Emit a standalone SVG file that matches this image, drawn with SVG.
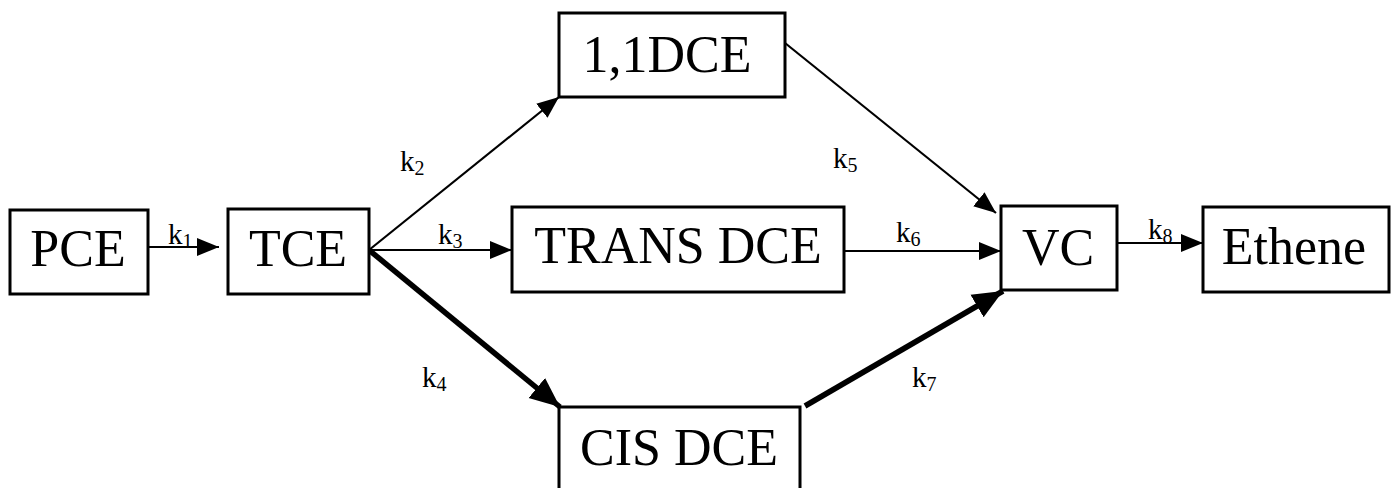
<svg xmlns="http://www.w3.org/2000/svg" width="1396" height="488" viewBox="0 0 1396 488">
<style>
.box{fill:#fff;stroke:#000;stroke-width:3}
.lbl{font-family:"Liberation Serif","Times New Roman",serif;font-size:52px;text-anchor:middle;fill:#000}
.k{font-family:"Liberation Serif","Times New Roman",serif;font-size:29px;fill:#000}
.sub{font-size:20px}
.thin{stroke:#000;stroke-width:2.2;fill:none}
.thick{stroke:#000;stroke-width:5.5;fill:none}
</style>
<defs>
<marker id="ah" markerUnits="userSpaceOnUse" markerWidth="24" markerHeight="20" refX="22" refY="10" orient="auto"><path d="M0,1 L22,10 L0,19 Z" fill="#000"/></marker>
<marker id="ahT" markerUnits="userSpaceOnUse" markerWidth="32" markerHeight="28" refX="30" refY="14" orient="auto"><path d="M0,1 L30,14 L0,27 Z" fill="#000"/></marker>
</defs>
<g id="connectors">
<line class="thin" x1="144" y1="247" x2="219" y2="247" marker-end="url(#ah)"/>
<line class="thin" x1="369" y1="250" x2="559" y2="97" marker-end="url(#ah)"/>
<line class="thin" x1="369" y1="250" x2="512" y2="250" marker-end="url(#ah)"/>
<line class="thick" x1="369" y1="250" x2="560" y2="407" marker-end="url(#ahT)"/>
<line class="thin" x1="785" y1="43" x2="996" y2="213" marker-end="url(#ah)"/>
<line class="thin" x1="844" y1="251" x2="1001" y2="251" marker-end="url(#ah)"/>
<line class="thick" x1="805" y1="406" x2="1003" y2="291" marker-end="url(#ahT)"/>
<line class="thin" x1="1108" y1="243" x2="1203" y2="243" marker-end="url(#ah)"/>
<text class="k" x="168" y="244">k<tspan class="sub" dy="4">1</tspan></text>
<text class="k" x="400" y="171">k<tspan class="sub" dy="4">2</tspan></text>
<text class="k" x="438" y="244">k<tspan class="sub" dy="4">3</tspan></text>
<text class="k" x="422" y="387">k<tspan class="sub" dy="4">4</tspan></text>
<text class="k" x="833" y="168">k<tspan class="sub" dy="4">5</tspan></text>
<text class="k" x="896" y="242">k<tspan class="sub" dy="4">6</tspan></text>
<text class="k" x="912" y="387">k<tspan class="sub" dy="4">7</tspan></text>
<text class="k" x="1148" y="239">k<tspan class="sub" dy="4">8</tspan></text>
</g>
<g id="PCE"><rect class="box" x="10" y="210" width="138" height="84"/><text class="lbl" x="78" y="266">PCE</text></g>
<g id="TCE"><rect class="box" x="228" y="209" width="141" height="85"/><text class="lbl" x="298" y="266">TCE</text></g>
<g id="DCE11"><rect class="box" x="559" y="13" width="226" height="84"/><text class="lbl" x="667" y="72">1,1DCE</text></g>
<g id="TRANSDCE"><rect class="box" x="512" y="207" width="332" height="85"/><text class="lbl" x="678" y="263">TRANS DCE</text></g>
<g id="CISDCE"><rect class="box" x="559" y="407" width="241" height="100"/><text class="lbl" x="679" y="465">CIS DCE</text></g>
<g id="VC"><rect class="box" x="1001" y="206" width="116" height="84"/><text class="lbl" x="1058" y="265">VC</text></g>
<g id="Ethene"><rect class="box" x="1203" y="207" width="186" height="85"/><text class="lbl" x="1294" y="264">Ethene</text></g>
</svg>
